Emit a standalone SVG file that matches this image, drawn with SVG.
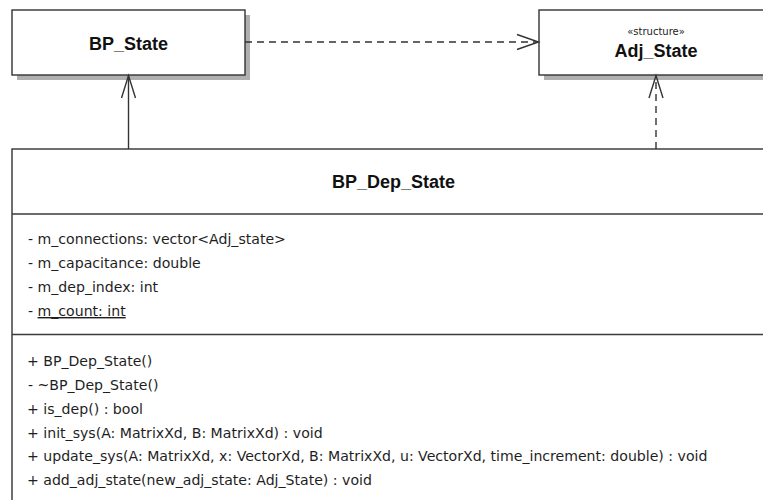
<svg xmlns="http://www.w3.org/2000/svg" width="763" height="500" viewBox="0 0 763 500">
  <style>
    .box { fill: #ffffff; stroke: #333333; stroke-width: 1.4; }
    .shadow { fill: #b0b0b0; }
    .div { stroke: #3a3a3a; stroke-width: 1.6; }
    .title { font-family: "Liberation Sans", Arial, sans-serif; font-weight: bold; font-size: 18px; fill: #111111; text-anchor: middle; }
    .stereo { font-family: "DejaVu Sans", sans-serif; font-size: 10px; fill: #222222; text-anchor: middle; }
    .member { font-family: "DejaVu Sans", sans-serif; font-size: 14.1px; fill: #1e1e1e; }
    .line { fill: none; stroke: #333333; stroke-width: 1.4; }
    .dash { stroke-dasharray: 7 5; }
  </style>

  <rect width="763" height="500" fill="#ffffff"/>

  <!-- class: BP_State -->
  <g id="bp-state">
    <rect class="shadow" x="17" y="15" width="233" height="65"/>
    <rect class="box" x="12" y="10" width="233" height="65"/>
    <text class="title" x="128.5" y="49.5">BP_State</text>
  </g>

  <!-- structure: Adj_State -->
  <g id="adj-state">
    <rect class="shadow" x="544" y="15" width="232" height="65"/>
    <rect class="box" x="539" y="10" width="232" height="65"/>
    <text class="stereo" x="656" y="35">«structure»</text>
    <text class="title" x="656" y="57">Adj_State</text>
  </g>

  <!-- class: BP_Dep_State -->
  <g id="bp-dep-state">
    <rect class="shadow" x="17" y="154" width="762" height="360"/>
    <rect class="box" x="12" y="149" width="762" height="360"/>
    <text class="title" x="393.5" y="188">BP_Dep_State</text>
    <line class="div" x1="12" y1="214" x2="774" y2="214"/>
    <text class="member" x="28" y="244">- m_connections: vector&lt;Adj_state&gt;</text>
    <text class="member" x="28" y="268">- m_capacitance: double</text>
    <text class="member" x="28" y="292">- m_dep_index: int</text>
    <text class="member" x="28" y="316">- <tspan text-decoration="underline">m_count: int</tspan></text>
    <line class="div" x1="12" y1="334.5" x2="774" y2="334.5"/>
    <text class="member" x="27" y="366">+ BP_Dep_State()</text>
    <text class="member" x="28" y="390">- ~BP_Dep_State()</text>
    <text class="member" x="27" y="414">+ is_dep() : bool</text>
    <text class="member" x="27" y="438">+ init_sys(A: MatrixXd, B: MatrixXd) : void</text>
    <text class="member" x="27" y="461">+ update_sys(A: MatrixXd, x: VectorXd, B: MatrixXd, u: VectorXd, time_increment: double) : void</text>
    <text class="member" x="27" y="485">+ add_adj_state(new_adj_state: Adj_State) : void</text>
  </g>

  <!-- connectors -->
  <g id="connectors">
    <!-- link BP_Dep_State -> BP_State -->
    <line class="line" x1="128.5" y1="149" x2="128.5" y2="75"/>
    <polyline class="line" points="121.5,98 128.5,75.5 135.5,98"/>
    <!-- dependency BP_State -> Adj_State -->
    <line class="line dash" x1="245" y1="42" x2="538" y2="42"/>
    <polyline class="line" points="517,34.5 538.5,42 517,49.5"/>
    <!-- dependency BP_Dep_State -> Adj_State -->
    <line class="line dash" x1="656" y1="149" x2="656" y2="76"/>
    <polyline class="line" points="649,98 656,75.5 663,98"/>
  </g>
</svg>
